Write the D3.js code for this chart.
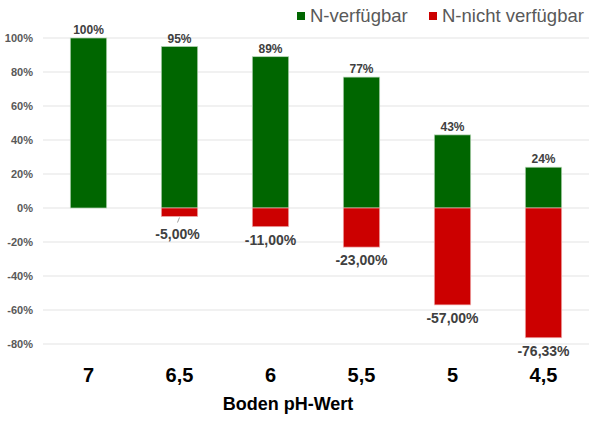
<!DOCTYPE html>
<html>
<head>
<meta charset="utf-8">
<script src="https://cdn.jsdelivr.net/npm/d3@7"></script>
<style>
  body { margin: 0; background: #fff; }
  svg { font-family: "Liberation Sans", Arial, sans-serif; }
</style>
</head>
<body>
<svg id="chart" width="600" height="423"></svg>
<script>
// data
var categories = ["7", "6,5", "6", "5,5", "5", "4,5"];
var available = [100, 95, 89, 77, 43, 24];
var notAvailable = [0, -5, -11, -23, -57, -76.33];
var yTicks = [100, 80, 60, 40, 20, 0, -20, -40, -60, -80];

var green = "#006600", red = "#cc0000";

var svg = d3.select("#chart");

var x = d3.scaleBand()
  .domain(categories)
  .range([43, 589])
  .paddingInner(0.6)
  .paddingOuter(0.3);

var y = d3.scaleLinear()
  .domain([-80, 100])
  .range([344, 38]);

// grid lines
svg.append("g").selectAll("line")
  .data(yTicks)
  .enter().append("line")
  .attr("x1", 43).attr("x2", 589)
  .attr("y1", function (d) { return y(d); })
  .attr("y2", function (d) { return y(d); })
  .style("stroke", "#e3e3e3")
  .style("stroke-width", 1);

// y axis labels
var yAxis = svg.append("g")
  .attr("transform", "translate(36,0)")
  .call(d3.axisLeft(y).tickValues(yTicks).tickSize(0).tickFormat(function (d) { return d + "%"; }));
yAxis.select(".domain").remove();
yAxis.selectAll("text")
  .attr("x", -3)
  .style("font-size", "11px")
  .style("font-weight", "bold")
  .style("fill", "#595959")
  .style("font-family", "Liberation Sans, Arial, sans-serif");

// green bars
svg.append("g").selectAll("rect")
  .data(available)
  .enter().append("rect")
  .attr("x", function (d, i) { return x(categories[i]); })
  .attr("width", x.bandwidth())
  .attr("y", function (d) { return y(d); })
  .attr("height", function (d) { return y(0) - y(d); })
  .style("fill", green)
  .style("stroke", "#b8d8b8")
  .style("stroke-width", 0.7);

// red bars
svg.append("g").selectAll("rect")
  .data(notAvailable)
  .enter().append("rect")
  .attr("x", function (d, i) { return x(categories[i]); })
  .attr("width", x.bandwidth())
  .attr("y", y(0))
  .attr("height", function (d) { return y(d) - y(0); })
  .style("fill", red)
  .style("stroke", "#f0b0b0")
  .style("stroke-width", function (d) { return d === 0 ? 0 : 0.7; });

// positive labels
svg.append("g").selectAll("text")
  .data(available)
  .enter().append("text")
  .attr("x", function (d, i) { return x(categories[i]) + x.bandwidth() / 2; })
  .attr("y", function (d) { return y(d) - 4; })
  .attr("text-anchor", "middle")
  .style("font-size", "12px")
  .style("font-weight", "bold")
  .style("fill", "#404040")
  .text(function (d) { return d + "%"; });

// negative labels
var negIdx = [1, 2, 3, 4, 5];
svg.append("g").selectAll("text")
  .data(negIdx)
  .enter().append("text")
  .attr("x", function (i) { return x(categories[i]) + x.bandwidth() / 2 - (i === 1 ? 2 : 0); })
  .attr("y", function (i) { return y(notAvailable[i]) + (i === 1 ? 22 : 18); })
  .attr("text-anchor", "middle")
  .style("font-size", "14px")
  .style("font-weight", "bold")
  .style("fill", "#404040")
  .text(function (i) { return notAvailable[i].toFixed(2).replace(".", ",") + "%"; });

// little leader line for -5,00%
svg.append("line")
  .attr("x1", x(categories[1]) + x.bandwidth() / 2)
  .attr("x2", x(categories[1]) + x.bandwidth() / 2 - 2)
  .attr("y1", y(notAvailable[1]) + 1)
  .attr("y2", y(notAvailable[1]) + 6)
  .style("stroke", "#a0a0a0")
  .style("stroke-width", 1);

// category labels
svg.append("g").selectAll("text")
  .data(categories)
  .enter().append("text")
  .attr("x", function (d) { return x(d) + x.bandwidth() / 2; })
  .attr("y", 382)
  .attr("text-anchor", "middle")
  .style("font-size", "20px")
  .style("font-weight", "bold")
  .style("fill", "#000")
  .text(function (d) { return d; });

// axis title
svg.append("text")
  .attr("x", 288)
  .attr("y", 410)
  .attr("text-anchor", "middle")
  .style("font-size", "18px")
  .style("font-weight", "bold")
  .style("fill", "#000")
  .text("Boden pH-Wert");

// legend
var legendItems = [
  { name: "N-verfügbar", color: green, x: 297 },
  { name: "N-nicht verfügbar", color: red, x: 429 }
];
var legend = svg.append("g").selectAll("g")
  .data(legendItems)
  .enter().append("g")
  .attr("transform", function (d) { return "translate(" + d.x + ",0)"; });
legend.append("rect")
  .attr("x", 0).attr("y", 12)
  .attr("width", 8).attr("height", 8)
  .style("fill", function (d) { return d.color; });
legend.append("text")
  .attr("x", 13).attr("y", 22)
  .style("font-size", "18.5px")
  .style("fill", "#595959")
  .text(function (d) { return d.name; });
</script>
</body>
</html>
